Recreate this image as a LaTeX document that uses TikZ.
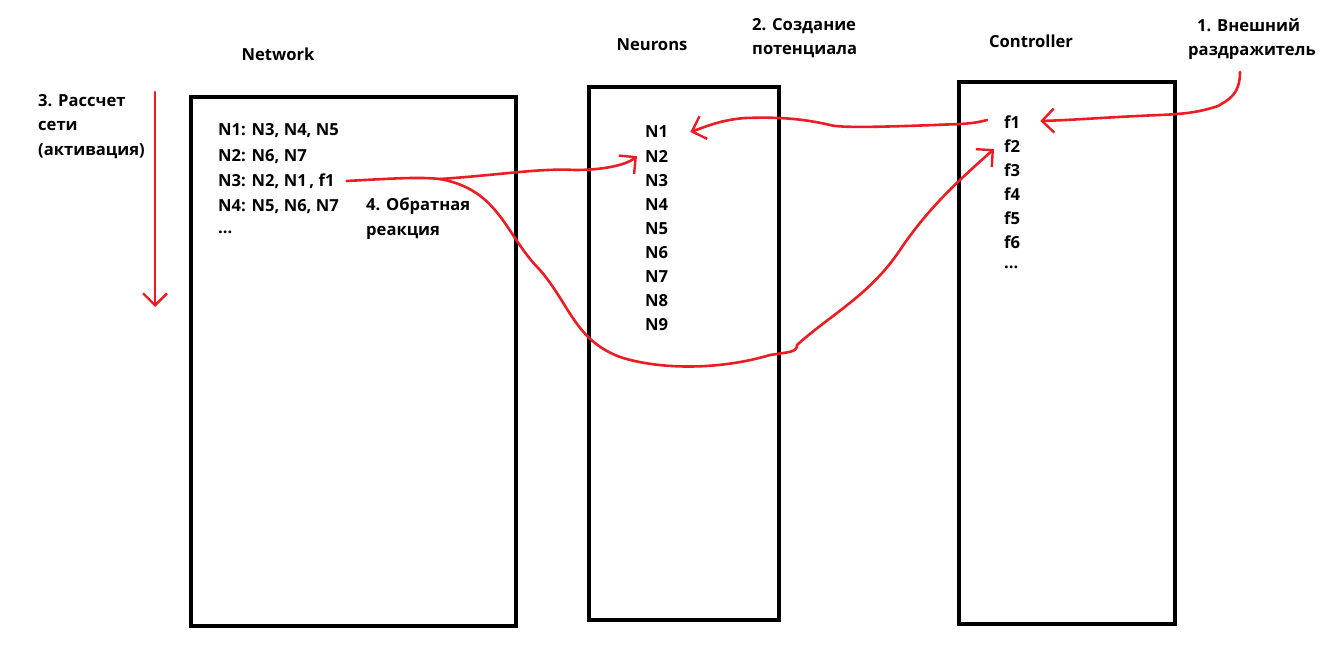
\documentclass[tikz,border=0pt]{standalone}
\usepackage{fontspec}
\setmainfont{Open Sans}
\usetikzlibrary{arrows.meta}
\begin{document}
\begin{tikzpicture}[x=1pt,y=-1pt,
  box/.style={draw=black,line width=4.5pt},
  lbl/.style={font=\fontsize{16.6}{24.5}\selectfont\bfseries,inner sep=0pt,anchor=west,align=left},
  redline/.style={draw={rgb,255:red,237;green,28;blue,36},line width=2.6pt,line cap=round,line join=round},
  tipv/.style={-{Straight Barb[length=12pt,width=24pt,line width=2.4pt]}}
]
\useasboundingbox[fill=white] (0,0) rectangle (1327,655);
% boxes
\draw[box] (191,97) rectangle (516,626);
\draw[box] (589,87) rectangle (779,620);
\draw[box] (959,82) rectangle (1175,624);
% titles
\node[lbl,anchor=center] (tnet) at (278,54) {Network};
\node[lbl,anchor=center] (tneu) at (652,45) {Neurons};
\node[lbl,anchor=center] (tcon) at (1031,41) {Controller};
\node[lbl,anchor=north west] (s2) at (752,18) {2. Создание\\потенциала};
\node[lbl,anchor=north west] (s1) at (1188,18) {\hspace*{9pt}1. Внешний\\раздражитель};
\node[lbl,anchor=north west] (s3) at (38,94) {3. Рассчет\\сети\\(активация)};
\node[lbl,anchor=north west] (s4) at (366,198) {4. Обратная\\реакция};
% network lines
\node[lbl] (w1) at (218,131) {N1: N3, N4, N5};
\node[lbl] (w2) at (218,157) {N2: N6, N7};
\node[lbl] (w3) at (218,181) {N3: N2, N1\,, f1};
\node[lbl] (w4) at (218,207) {N4: N5, N6, N7};
\node[lbl] (w5) at (218,232) {...};
% neurons
\foreach \i in {1,...,9}{
  \node[lbl] (n\i) at (645,{132+24.1*(\i-1)}) {N\i};
}
% controller
\foreach \i in {1,...,6}{
  \node[lbl] (f\i) at (1004,{122+24*(\i-1)}) {f\i};
}
\node[lbl] (f7) at (1004,267) {...};
% red connectors
\coordinate (ext) at (1240,72);
\coordinate (arrdown0) at (155,92);
\coordinate (arrdown1) at (155,307);
\coordinate (fb) at (440,179);
% 1. external stimulus -> f1
\draw[redline,tipv] (ext) .. controls (1240,95) and (1228,100) .. (1218,106)
  .. controls (1200,112) and (1185,114) .. (1160,115)
  .. controls (1110,117) and (1075,120) .. ([xshift=20pt,yshift=1pt]f1.east);
% 2. f1 -> N1
\draw[redline,tipv] ([xshift=-17pt,yshift=2pt]f1.west) .. controls (970,125) and (950,124) .. (935,125)
  .. controls (880,127) and (840,128) .. (830,125)
  .. controls (800,118) and (775,117) .. (745,118)
  .. controls (720,120) and (705,127) .. ([xshift=22pt]n1.east);
% 3. N3 (network) -> N2
\draw[redline,tipv] ([xshift=12pt]w3.east) .. controls (400,178) and (420,177) .. (fb)
  .. controls (500,175) and (540,168) .. (575,170)
  .. controls (600,170) and (625,166) .. ([xshift=-8pt]n2.west);
% 4. feedback -> f2
\draw[redline,tipv] (fb) .. controls (500,190) and (505,235) .. (540,270)
  .. controls (570,305) and (575,340) .. (620,357)
  .. controls (660,370) and (720,370) .. (770,355)
  .. controls (790,352) and (797,352) .. (797,345)
  .. controls (830,315) and (870,295) .. (900,250)
  .. controls (930,205) and (965,175) .. ([xshift=-10pt,yshift=-3pt]f2.west);
% 5. vertical arrow
\draw[redline,tipv] (arrdown0) -- (arrdown1);
\end{tikzpicture}
\end{document}
